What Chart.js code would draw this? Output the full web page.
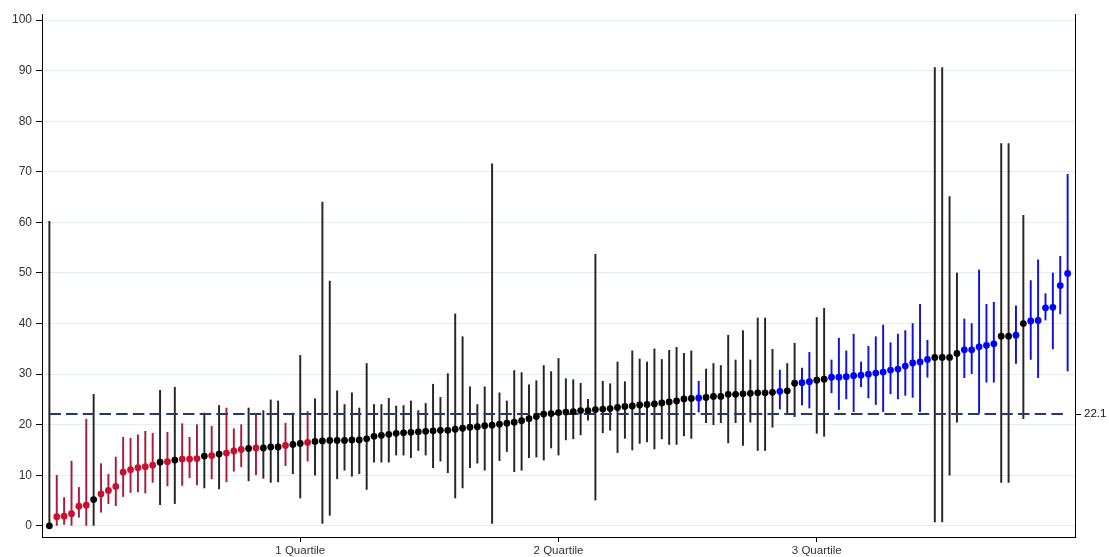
<!DOCTYPE html>
<html>
<head>
<meta charset="utf-8">
<script src="https://cdn.jsdelivr.net/npm/chart.js@4.4.0/dist/chart.umd.min.js"></script>
<style>
  html, body { margin: 0; padding: 0; background: #ffffff; }
  #wrap { width: 1109px; height: 557px; }
</style>
</head>
<body>
<div id="wrap"><canvas id="caterpillar"></canvas></div>
<script>
// Ranked estimates with their interval bounds
const estimates = [
  0, 1.8, 1.9, 2.4, 3.9, 4.1, 5.2, 6.3, 7.0, 7.8,
  10.6, 11.1, 11.5, 11.7, 12.0, 12.6, 12.7, 13.0, 13.2, 13.2,
  13.3, 13.8, 13.9, 14.2, 14.4, 14.8, 15.1, 15.3, 15.4, 15.4,
  15.6, 15.6, 15.9, 16.1, 16.3, 16.5, 16.7, 16.8, 16.9, 16.9,
  16.9, 17.0, 17.0, 17.2, 17.7, 17.9, 18.1, 18.3, 18.4, 18.5,
  18.6, 18.7, 18.8, 18.9, 18.9, 19.1, 19.3, 19.5, 19.6, 19.8,
  19.9, 20.1, 20.3, 20.5, 20.8, 21.2, 21.6, 22.1, 22.2, 22.4,
  22.5, 22.6, 22.8, 22.8, 23.0, 23.1, 23.2, 23.4, 23.6, 23.7,
  23.9, 24.0, 24.1, 24.3, 24.5, 24.7, 25.1, 25.2, 25.3, 25.4,
  25.6, 25.6, 26.0, 26.0, 26.1, 26.2, 26.3, 26.3, 26.4, 26.6,
  26.7, 28.2, 28.3, 28.5, 28.8, 29.0, 29.4, 29.4, 29.5, 29.7,
  29.8, 30.0, 30.2, 30.4, 30.8, 31.0, 31.6, 32.2, 32.4, 32.9,
  33.3, 33.3, 33.3, 34.1, 34.8, 34.8, 35.4, 35.7, 36.0, 37.5,
  37.5, 37.7, 40.0, 40.5, 40.6, 43.1, 43.2, 47.5, 49.9
];
const lower = [
  0, 0, 0.3, 0, 1.7, 0, 0, 2.7, 4.4, 4.0,
  5.8, 6.6, 6.7, 6.5, 8.6, 4.2, 7.9, 4.4, 8.0, 9.5,
  8.1, 7.5, 9.3, 7.3, 8.7, 10.8, 11.7, 8.9, 10.1, 9.4,
  8.6, 8.7, 11.9, 10.3, 5.5, 12.8, 10.0, 0.5, 2.1, 9.3,
  11.0, 9.8, 10.3, 7.2, 12.6, 12.6, 12.6, 14.0, 14.0, 13.5,
  14.9, 14.0, 11.5, 12.8, 10.5, 5.5, 7.5, 11.5, 12.4, 11.0,
  0.5, 12.9, 14.7, 10.7, 11.0, 13.5, 13.6, 13.0, 15.4, 14.0,
  17.0, 17.2, 18.0, 20.9, 5.1, 18.4, 18.9, 14.5, 17.3, 15.0,
  16.3, 16.6, 15.2, 17.2, 16.1, 16.1, 17.8, 17.3, 22.5, 20.4,
  20.0, 20.4, 16.4, 20.4, 15.9, 20.5, 14.9, 14.9, 19.5, 23.1,
  22.3, 21.6, 23.9, 23.3, 18.3, 17.7, 26.3, 23.0, 25.1, 22.6,
  27.5, 25.3, 24.0, 22.6, 26.1, 25.1, 25.8, 25.4, 22.6, 29.4,
  0.8, 0.8, 10.0, 20.5, 29.3, 30.1, 22.3, 28.4, 28.4, 8.6,
  8.6, 32.1, 21.2, 32.9, 29.3, 40.7, 35.0, 41.9, 30.6
];
const upper = [
  60.2, 10.0, 5.6, 12.8, 7.6, 21.1, 26.0, 12.3, 10.2, 13.6,
  17.5, 17.3, 18.0, 18.7, 18.3, 26.8, 18.5, 27.4, 20.2, 17.5,
  20.0, 22.3, 19.7, 23.8, 23.3, 19.2, 20.0, 23.3, 22.0, 22.8,
  24.9, 24.7, 20.3, 22.3, 33.7, 22.6, 25.1, 64.0, 48.4, 26.7,
  24.0, 26.3, 23.3, 32.1, 24.0, 24.0, 25.2, 23.7, 23.8, 24.7,
  22.8, 24.2, 28.0, 25.4, 30.1, 41.9, 37.4, 27.5, 24.0, 27.5,
  71.6, 26.3, 24.7, 30.7, 30.3, 27.9, 28.7, 31.7, 30.5, 33.1,
  29.1, 28.9, 28.2, 25.0, 53.7, 28.6, 28.1, 32.4, 28.5, 34.6,
  33.0, 32.4, 35.0, 32.9, 34.7, 35.3, 34.1, 34.6, 28.6, 31.0,
  32.1, 31.7, 37.7, 32.8, 38.6, 32.8, 41.1, 41.1, 34.9, 30.8,
  32.1, 36.1, 31.2, 34.3, 41.2, 43.0, 32.8, 37.1, 34.6, 37.9,
  32.4, 35.5, 37.4, 39.7, 36.2, 37.9, 38.6, 40.0, 43.8, 36.7,
  90.6, 90.6, 65.1, 50.0, 40.9, 40.0, 50.6, 43.8, 44.2, 75.6,
  75.6, 43.5, 61.4, 48.5, 52.6, 45.9, 50.0, 53.3, 69.5
];
// r = below the mean, b = above the mean, k = not different
const groups = [
  'k', 'r', 'r', 'r', 'r', 'r', 'k', 'r', 'r', 'r',
  'r', 'r', 'r', 'r', 'r', 'k', 'r', 'k', 'r', 'r',
  'r', 'k', 'r', 'k', 'r', 'r', 'r', 'k', 'r', 'k',
  'k', 'k', 'r', 'k', 'k', 'r', 'k', 'k', 'k', 'k',
  'k', 'k', 'k', 'k', 'k', 'k', 'k', 'k', 'k', 'k',
  'k', 'k', 'k', 'k', 'k', 'k', 'k', 'k', 'k', 'k',
  'k', 'k', 'k', 'k', 'k', 'k', 'k', 'k', 'k', 'k',
  'k', 'k', 'k', 'k', 'k', 'k', 'k', 'k', 'k', 'k',
  'k', 'k', 'k', 'k', 'k', 'k', 'k', 'k', 'b', 'k',
  'k', 'k', 'k', 'k', 'k', 'k', 'k', 'k', 'k', 'b',
  'k', 'k', 'b', 'b', 'k', 'k', 'b', 'b', 'b', 'b',
  'b', 'b', 'b', 'b', 'b', 'b', 'b', 'b', 'b', 'b',
  'k', 'k', 'k', 'k', 'b', 'b', 'b', 'b', 'b', 'k',
  'k', 'b', 'k', 'b', 'b', 'b', 'b', 'b', 'b'
];
const meanValue = 22.1;
const yTicks = [0, 10, 20, 30, 40, 50, 60, 70, 80, 90, 100];
const quartileTicks = [35, 70, 105];
const quartileLabels = ['1 Quartile', '2 Quartile', '3 Quartile'];

const colors = {
  r: { point: '#c8102e', bar: '#a61d3f' },
  k: { point: '#000000', bar: '#262626' },
  b: { point: '#0000ff', bar: '#1212dc' }
};

const ranks = estimates.map((_, i) => i + 1);
const font = { family: '"Liberation Sans", Arial, sans-serif', size: 12 };

new Chart(document.getElementById('caterpillar'), {
  type: 'scatter',
  data: {
    datasets: [
      {
        type: 'scatter',
        label: 'Estimate',
        data: estimates.map((v, i) => ({ x: ranks[i], y: v })),
        pointRadius: 3.4,
        pointBorderWidth: 0,
        pointBackgroundColor: ctx => colors[groups[ctx.dataIndex]].point,
        order: 0
      },
      {
        type: 'line',
        label: 'Mean',
        data: [{ x: ranks[0], y: meanValue }, { x: ranks[ranks.length - 1], y: meanValue }],
        borderColor: '#263a66',
        borderWidth: 2,
        borderDash: [11.5, 5.2],
        pointRadius: 0,
        order: 1
      },
      {
        type: 'bar',
        label: 'Interval',
        data: lower.map((lo, i) => ({ x: ranks[i], y: [lo, upper[i]] })),
        backgroundColor: ctx => colors[groups[ctx.dataIndex]].bar,
        barThickness: 1.3,
        order: 2
      }
    ]
  },
  options: {
    responsive: true,
    maintainAspectRatio: false,
    animation: false,
    layout: { padding: { top: 14, right: 0, bottom: 0, left: 0 } },
    plugins: {
      legend: { display: false },
      tooltip: { enabled: false }
    },
    scales: {
      x: {
        type: 'linear',
        min: 0,
        max: ranks.length + 1,
        offset: false,
        afterBuildTicks: scale => { scale.ticks = quartileTicks.map(v => ({ value: v })); },
        afterFit: scale => { scale.height = 20; },
        grid: { offset: false, drawOnChartArea: false, tickLength: 5, tickColor: '#000000' },
        border: { color: '#000000', width: 1 },
        ticks: {
          callback: (value, index) => quartileLabels[index],
          autoSkip: false,
          maxRotation: 0,
          padding: 2,
          color: '#333333',
          font: { family: font.family, size: 11.5 }
        }
      },
      y: {
        type: 'linear',
        position: 'left',
        min: -2.2,
        max: 101.2,
        afterBuildTicks: scale => { scale.ticks = yTicks.map(v => ({ value: v })); },
        afterFit: scale => { scale.width = 42; },
        grid: { color: '#e6edf1', lineWidth: 1, tickColor: '#000000', tickLength: 6 },
        border: { color: '#000000', width: 1 },
        ticks: { padding: 4, color: '#333333', font: font }
      },
      yMean: {
        type: 'linear',
        position: 'right',
        min: -2.2,
        max: 101.2,
        afterBuildTicks: scale => { scale.ticks = [{ value: meanValue }]; },
        afterFit: scale => { scale.width = 34; },
        grid: { drawOnChartArea: false, tickColor: '#000000', tickLength: 6 },
        border: { color: '#000000', width: 1 },
        ticks: {
          callback: value => value.toFixed(1),
          padding: 3,
          color: '#111111',
          font: { family: font.family, size: 11.5 }
        }
      }
    }
  }
});
</script>
</body>
</html>
